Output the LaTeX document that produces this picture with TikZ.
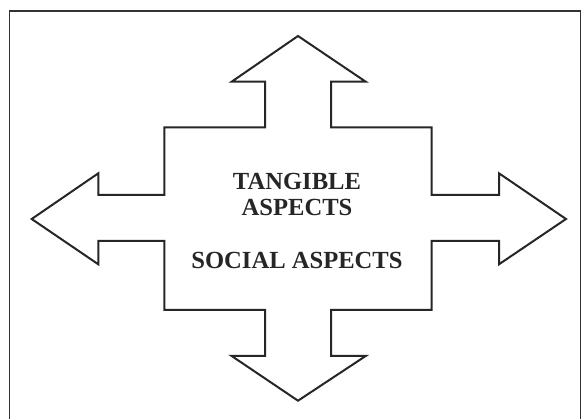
\documentclass[tikz,border=0pt]{standalone}
\usepackage{fontspec}
\setmainfont{Liberation Serif}
\begin{document}
\begin{tikzpicture}[x=1pt,y=-1pt,
  outline/.style={draw=black!85,line width=2pt,line join=miter,fill=white},
  framepart/.style={draw=black!80,line width=1.5pt},
  lbl/.style={font=\fontsize{24.6}{26}\selectfont\bfseries,text=black!85,anchor=base,inner sep=0pt}]
\useasboundingbox (0,0) rectangle (581,419);
\draw[framepart] (9.5,419) -- (9.5,10.8) -- (580.3,10.8) -- (580.3,419);
\draw[outline] (298,36) -- (365.7,81.7) -- (331,81.7) -- (331,127.3) -- (431.7,127.3) -- (431.7,195) -- (499,195) -- (499,173.3) -- (566,219) -- (499,264.3) -- (499,241) -- (431.7,241) -- (431.7,310) -- (331,310) -- (331,356) -- (365.7,356) -- (298,400.7) -- (231.7,356) -- (265,356) -- (265,310) -- (164.3,310) -- (164.3,241) -- (98.3,241) -- (98.3,264.3) -- (31.7,219) -- (98.3,173.3) -- (98.3,195) -- (164.3,195) -- (164.3,127.3) -- (265,127.3) -- (265,81.7) -- (231.7,81.7) -- cycle;
\node[lbl] (t1) at (297,189.5) {TANGIBLE};
\node[lbl] (t2) at (297,215.9) {ASPECTS};
\node[lbl] (t3) at (297,268.2) {SOCIAL ASPECTS};
\end{tikzpicture}
\end{document}
